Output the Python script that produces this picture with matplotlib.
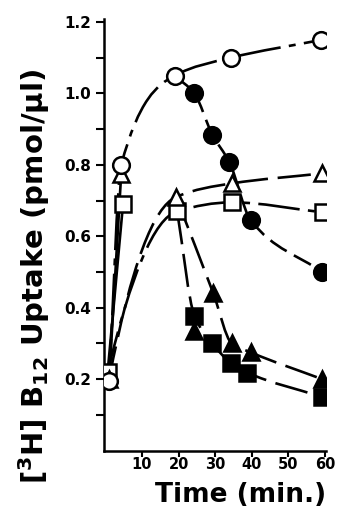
import matplotlib
matplotlib.use("Agg")
import matplotlib.pyplot as plt
import numpy as np
from matplotlib.path import Path
from matplotlib.patches import PathPatch

plt.rcParams['font.family'] = ['DejaVu Sans']
plt.rcParams['font.weight'] = 'bold'
plt.rcParams['mathtext.fontset'] = 'dejavusans'
plt.rcParams['mathtext.default'] = 'bf'
plt.rcParams['lines.scale_dashes'] = False

# values (time in min, uptake in pmol/ul)
t_open_circle = [1.0, 4.3, 18.9, 34.2, 59.0]
v_open_circle = [0.196, 0.80, 1.05, 1.10, 1.15]

t_fill_circle = [24.3, 29.2, 33.9, 39.7, 59.2]
v_fill_circle = [1.00, 0.885, 0.807, 0.645, 0.50]

t_open_tri = [1.0, 4.3, 19.3, 34.5, 59.2]
v_open_tri = [0.20, 0.775, 0.71, 0.748, 0.776]

t_open_sq = [0.6, 4.8, 19.6, 34.5, 59.5]
v_open_sq = [0.22, 0.69, 0.67, 0.695, 0.667]

t_fill_tri = [24.3, 29.5, 34.5, 39.7, 59.2]
v_fill_tri = [0.336, 0.44, 0.30, 0.275, 0.20]

t_fill_sq = [24.3, 29.2, 34.2, 38.8, 59.2]
v_fill_sq = [0.378, 0.30, 0.246, 0.218, 0.15]


def smooth_path(xs, ys, start=1.0):
    # monotone cubic (Fritsch-Carlson) written as bezier segments
    x = np.asarray(xs, float)
    y = np.asarray(ys, float)
    h = np.diff(x)
    d = np.diff(y) / h
    m = np.zeros_like(x)
    m[0], m[-1] = d[0] * start, d[-1]
    for i in range(1, len(x) - 1):
        if d[i - 1] * d[i] > 0:
            w1 = 2 * h[i] + h[i - 1]
            w2 = h[i] + 2 * h[i - 1]
            m[i] = (w1 + w2) / (w1 / d[i - 1] + w2 / d[i])
    verts = [(x[0], y[0])]
    codes = [Path.MOVETO]
    for i in range(len(x) - 1):
        verts += [(x[i] + h[i] / 3, y[i] + m[i] * h[i] / 3),
                  (x[i + 1] - h[i] / 3, y[i + 1] - m[i + 1] * h[i] / 3),
                  (x[i + 1], y[i + 1])]
        codes += [Path.CURVE4] * 3
    return Path(verts, codes)


def curve(ax, xs, ys, dashes, start=1.0):
    ls = 'solid' if dashes is None else (0, dashes)
    ax.add_patch(PathPatch(smooth_path(xs, ys, start), fill=False, lw=1.9,
                           ls=ls, ec='black', capstyle='butt', zorder=2))


fig = plt.figure(figsize=(3.38, 5.12), dpi=100)
ax = fig.add_axes([104 / 338, 61.5 / 512, 222 / 338, 432 / 512])

dashdot = (30, 6, 5, 6)
dashed = (14, 6)
longdash = (24, 7)

# rises
curve(ax, t_open_circle, v_open_circle, dashdot)
curve(ax, t_open_tri[:2], v_open_tri[:2], None)
curve(ax, t_open_sq[:2], v_open_sq[:2], None)
curve(ax, [t_open_tri[0]] + t_open_tri[2:], [v_open_tri[0]] + v_open_tri[2:],
      longdash, start=1.9)
curve(ax, [t_open_sq[0]] + t_open_sq[2:], [v_open_sq[0]] + v_open_sq[2:],
      dashdot, start=1.8)

# declines
curve(ax, [t_open_circle[2]] + t_fill_circle, [v_open_circle[2]] + v_fill_circle, dashed)
curve(ax, [t_open_tri[2]] + t_fill_tri[1:], [v_open_tri[2]] + v_fill_tri[1:], longdash)
curve(ax, [t_open_sq[2]] + t_fill_sq, [v_open_sq[2]] + v_fill_sq, longdash)

mk = dict(ls='none', mec='black', mew=1.8, zorder=3)
ax.plot(t_fill_circle, v_fill_circle, 'o', ms=12, mfc='black', **mk)
ax.plot(t_fill_sq, v_fill_sq, 's', ms=11, mfc='black', **mk)
ax.plot(t_fill_tri, v_fill_tri, '^', ms=12, mfc='black', **mk)
ax.plot(t_open_sq, v_open_sq, 's', ms=11, mfc='white', **mk)
ax.plot(t_open_tri, v_open_tri, '^', ms=11, mfc='white', **mk)
ax.plot(t_open_circle, v_open_circle, 'o', ms=12, mfc='white', **mk)

ax.set_xlim(-0.4, 60.3)
ax.set_ylim(0, 1.21)
ax.set_xticks([10, 20, 30, 40, 50, 60])
ax.set_yticks(np.arange(1, 13) / 10)
ax.set_yticklabels(['' if i % 2 else f'{i / 10:.1f}' for i in range(1, 13)])
ax.tick_params(axis='y', length=6, width=1.5, pad=3, labelsize=11)
ax.tick_params(axis='x', length=4, width=1.5, pad=1, labelsize=10.5)
for s in ['top', 'right']:
    ax.spines[s].set_visible(False)
for s in ['left', 'bottom']:
    ax.spines[s].set_linewidth(1.8)

fig.text(34 / 338, 1 - 277 / 512, r'[$^{3}$H] B$_{12}$ Uptake (pmol/µl)',
         rotation=90, ha='center', va='center', fontsize=21, fontweight='bold')
fig.text(241 / 338, 1 - 495 / 512, 'Time (min.)', ha='center', va='center',
         fontsize=19, fontweight='bold')

fig.savefig('out.png', dpi=100)
